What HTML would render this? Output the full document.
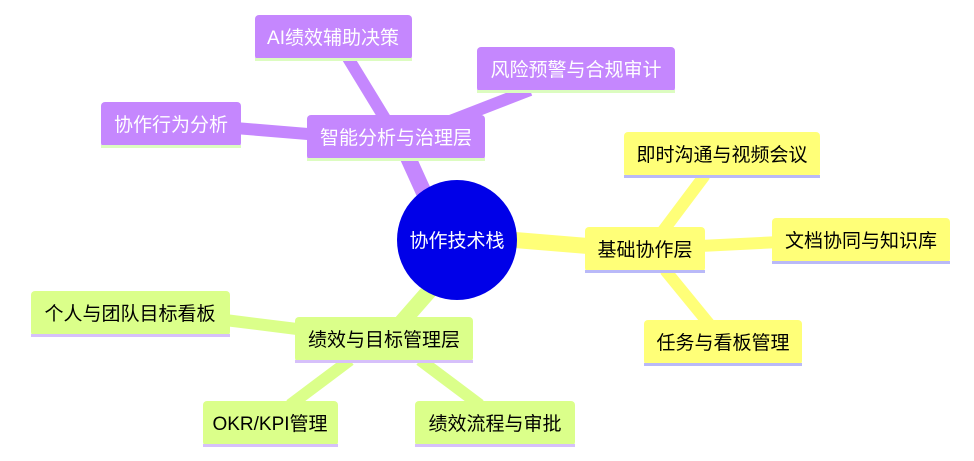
<!DOCTYPE html>
<html><head><meta charset="utf-8"><style>
body{margin:0;background:#fff;}
svg{display:block;font-family:"Liberation Sans","Noto Sans CJK SC",sans-serif;}
</style></head><body>
<svg width="974" height="461" viewBox="0 0 974 461" xmlns="http://www.w3.org/2000/svg">
<g stroke-linecap="butt" fill="none">
<line x1="425" y1="195" x2="400" y2="140" stroke="#c587fe" stroke-width="16"/>
<line x1="395" y1="135" x2="348" y2="58" stroke="#c587fe" stroke-width="12"/>
<line x1="440" y1="125" x2="530" y2="90" stroke="#c587fe" stroke-width="12"/>
<line x1="320" y1="135" x2="235" y2="128" stroke="#c587fe" stroke-width="12"/>
<line x1="515" y1="240" x2="600" y2="247" stroke="#ffff78" stroke-width="16"/>
<line x1="660" y1="235" x2="705" y2="175" stroke="#ffff78" stroke-width="12"/>
<line x1="700" y1="246" x2="780" y2="242" stroke="#ffff78" stroke-width="12"/>
<line x1="665" y1="270" x2="710" y2="325" stroke="#ffff78" stroke-width="12"/>
<line x1="430" y1="290" x2="395" y2="330" stroke="#dbff8a" stroke-width="16"/>
<line x1="305" y1="330" x2="225" y2="320" stroke="#dbff8a" stroke-width="12"/>
<line x1="350" y1="360" x2="290" y2="405" stroke="#dbff8a" stroke-width="12"/>
<line x1="420" y1="360" x2="480" y2="405" stroke="#dbff8a" stroke-width="12"/>
</g>
<circle cx="457" cy="240" r="60" fill="#0000e8"/>
<text x="457" y="247" fill="#fff" font-size="19" text-anchor="middle">协作技术栈</text>

<g font-size="19" text-anchor="middle">
<rect x="307" y="115" width="178" height="45" rx="4" fill="#c587fe"/><rect x="307" y="158" width="178" height="3" fill="#dcfcc0"/>
<text x="396" y="144" fill="#fff">智能分析与治理层</text>
<rect x="255" y="15" width="157" height="45" rx="4" fill="#c587fe"/><rect x="255" y="58" width="157" height="3" fill="#dcfcc0"/>
<text x="333" y="44" fill="#fff">AI绩效辅助决策</text>
<rect x="477" y="47" width="198" height="45" rx="4" fill="#c587fe"/><rect x="477" y="90" width="198" height="3" fill="#dcfcc0"/>
<text x="576" y="76" fill="#fff">风险预警与合规审计</text>
<rect x="101" y="102" width="140" height="45" rx="4" fill="#c587fe"/><rect x="101" y="145" width="140" height="3" fill="#dcfcc0"/>
<text x="171" y="131" fill="#fff">协作行为分析</text>
<rect x="585" y="227" width="120" height="45" rx="4" fill="#ffff78"/><rect x="585" y="270" width="120" height="3" fill="#b9b9f8"/>
<text x="645" y="256" fill="#000">基础协作层</text>
<rect x="624" y="132" width="196" height="45" rx="4" fill="#ffff78"/><rect x="624" y="175" width="196" height="3" fill="#b9b9f8"/>
<text x="722" y="161" fill="#000">即时沟通与视频会议</text>
<rect x="772" y="218" width="178" height="45" rx="4" fill="#ffff78"/><rect x="772" y="261" width="178" height="3" fill="#b9b9f8"/>
<text x="861" y="247" fill="#000">文档协同与知识库</text>
<rect x="644" y="320" width="158" height="45" rx="4" fill="#ffff78"/><rect x="644" y="363" width="158" height="3" fill="#b9b9f8"/>
<text x="723" y="349" fill="#000">任务与看板管理</text>
<rect x="295" y="317" width="178" height="45" rx="4" fill="#dbff8a"/><rect x="295" y="360" width="178" height="3" fill="#d6c0fa"/>
<text x="384" y="346" fill="#000">绩效与目标管理层</text>
<rect x="31" y="291" width="199" height="45" rx="4" fill="#dbff8a"/><rect x="31" y="334" width="199" height="3" fill="#d6c0fa"/>
<text x="130" y="320" fill="#000">个人与团队目标看板</text>
<rect x="203" y="401" width="135" height="45" rx="4" fill="#dbff8a"/><rect x="203" y="444" width="135" height="3" fill="#d6c0fa"/>
<text x="270" y="430" fill="#000">OKR/KPI管理</text>
<rect x="415" y="401" width="160" height="45" rx="4" fill="#dbff8a"/><rect x="415" y="444" width="160" height="3" fill="#d6c0fa"/>
<text x="495" y="430" fill="#000">绩效流程与审批</text>
</g>
</svg>
</body></html>
